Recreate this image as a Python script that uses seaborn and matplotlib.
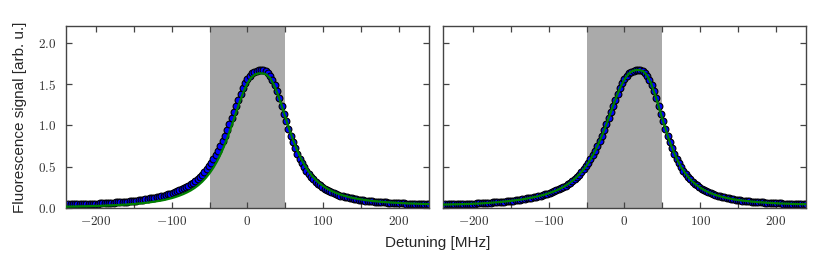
import matplotlib
matplotlib.use("Agg")
import matplotlib.pyplot as plt
import seaborn as sns
import pandas as pd
from matplotlib.ticker import MultipleLocator, FuncFormatter

# ---- data ----
# measured points, every 3 MHz from -240 to 240 MHz
detuning = list(range(-240, 241, 3))
signal = [
    0.045, 0.046, 0.046, 0.047, 0.048, 0.049, 0.049, 0.050, 0.051, 0.052,
    0.052, 0.053, 0.055, 0.056, 0.057, 0.058, 0.059, 0.060, 0.062, 0.064,
    0.066, 0.068, 0.070, 0.072, 0.074, 0.076, 0.079, 0.081, 0.084, 0.087,
    0.090, 0.093, 0.097, 0.100, 0.104, 0.109, 0.113, 0.119, 0.124, 0.129,
    0.134, 0.140, 0.146, 0.152, 0.160, 0.167, 0.176, 0.185, 0.194, 0.205,
    0.216, 0.229, 0.242, 0.257, 0.273, 0.291, 0.310, 0.331, 0.354, 0.379,
    0.407, 0.437, 0.471, 0.507, 0.548, 0.591, 0.639, 0.691, 0.747, 0.807,
    0.872, 0.940, 1.012, 1.086, 1.162, 1.238, 1.312, 1.383, 1.448, 1.507,
    1.557, 1.598, 1.629, 1.650, 1.663, 1.669,
    1.670, 1.668, 1.658, 1.637, 1.601, 1.551, 1.487, 1.411, 1.326, 1.236,
    1.143, 1.051, 0.962, 0.877, 0.798, 0.725, 0.659, 0.599, 0.545, 0.497,
    0.454, 0.415, 0.381, 0.350, 0.322, 0.298, 0.276, 0.256, 0.238, 0.222,
    0.208, 0.195, 0.183, 0.172, 0.162, 0.153, 0.145, 0.138, 0.131, 0.125,
    0.119, 0.114, 0.109, 0.105, 0.100, 0.097, 0.093, 0.090, 0.087, 0.084,
    0.081, 0.079, 0.076, 0.074, 0.072, 0.070, 0.068, 0.067, 0.065, 0.064,
    0.062, 0.061, 0.060, 0.058, 0.057, 0.056, 0.055, 0.054, 0.053, 0.053,
    0.052, 0.051, 0.050, 0.049, 0.049,
]

# fitted curves, every 5 MHz from -240 to 240 MHz
fit_detuning = list(range(-240, 241, 5))
fit_left = [
    0.020, 0.021, 0.022, 0.023, 0.024, 0.025, 0.026, 0.028, 0.029, 0.030,
    0.032, 0.034, 0.036, 0.038, 0.041, 0.043, 0.046, 0.049, 0.053, 0.057,
    0.061, 0.066, 0.071, 0.078, 0.085, 0.092, 0.101, 0.112, 0.123, 0.137,
    0.153, 0.171, 0.192, 0.216, 0.245, 0.279, 0.320, 0.368, 0.425, 0.492,
    0.571, 0.664, 0.771, 0.891, 1.022, 1.159, 1.293, 1.413, 1.510, 1.578,
    1.616, 1.629,
    1.629, 1.615, 1.571, 1.491, 1.379, 1.245, 1.102, 0.961, 0.830, 0.714,
    0.614, 0.528, 0.456, 0.396, 0.346, 0.304, 0.269, 0.239, 0.214, 0.193,
    0.175, 0.159, 0.146, 0.134, 0.124, 0.115, 0.108, 0.101, 0.095, 0.089,
    0.085, 0.080, 0.076, 0.073, 0.070, 0.067, 0.065, 0.062, 0.060, 0.058,
    0.057, 0.055, 0.053, 0.052, 0.051,
]
fit_right = [
    0.045, 0.046, 0.047, 0.048, 0.049, 0.050, 0.052, 0.053, 0.055, 0.057,
    0.059, 0.062, 0.065, 0.068, 0.072, 0.076, 0.080, 0.085, 0.090, 0.096,
    0.102, 0.108, 0.116, 0.125, 0.134, 0.144, 0.155, 0.167, 0.182, 0.198,
    0.216, 0.238, 0.262, 0.291, 0.324, 0.362, 0.407, 0.459, 0.520, 0.591,
    0.673, 0.767, 0.872, 0.988, 1.112, 1.238, 1.360, 1.469, 1.557, 1.620,
    1.655, 1.669,
    1.669, 1.653, 1.601, 1.510, 1.384, 1.236, 1.081, 0.933, 0.798, 0.681,
    0.581, 0.497, 0.428, 0.370, 0.322, 0.283, 0.250, 0.222, 0.199, 0.179,
    0.162, 0.148, 0.136, 0.125, 0.116, 0.107, 0.100, 0.094, 0.089, 0.084,
    0.079, 0.076, 0.072, 0.069, 0.066, 0.064, 0.061, 0.059, 0.057, 0.056,
    0.054, 0.052, 0.051, 0.050, 0.049,
]

window = (-50, 50)
x_limits = (-240, 240)
y_limits = (0.0, 2.2)

# ---- style ----
sns.set_style("ticks")
plt.rcParams["font.family"] = ["Liberation Sans", "DejaVu Sans"]
plt.rcParams["mathtext.fontset"] = "cm"

fig = plt.figure(figsize=(8.31, 2.57), dpi=100)
ax1 = fig.add_axes([0.0794, 0.1895, 0.4368, 0.7093])
ax2 = fig.add_axes([0.5331, 0.1895, 0.4368, 0.7093])

pts = pd.DataFrame({"x": detuning, "y": signal})
fits = pd.DataFrame({"x": fit_detuning, "fl": fit_left, "fr": fit_right})

spine_col = "#444444"
for ax, fitcol in ((ax1, "fl"), (ax2, "fr")):
    ax.axvspan(window[0], window[1], color="#aaaaaa", lw=0, zorder=0)
    sns.scatterplot(data=pts, x="x", y="y", ax=ax, s=24, color="#0000ff",
                    edgecolor="black", linewidth=0.8, zorder=2, legend=False)
    sns.lineplot(data=fits, x="x", y=fitcol, ax=ax, color="#008000", lw=1.6,
                 estimator=None, sort=False, zorder=3, legend=False)
    ax.set_xlim(*x_limits)
    ax.set_ylim(*y_limits)
    ax.xaxis.set_major_locator(MultipleLocator(100))
    ax.xaxis.set_minor_locator(MultipleLocator(50))
    ax.yaxis.set_major_locator(MultipleLocator(0.5))
    ax.xaxis.set_major_formatter(FuncFormatter(lambda v, p: f"${v:.0f}$"))
    ax.yaxis.set_major_formatter(FuncFormatter(lambda v, p: f"${v:.1f}$"))
    ax.tick_params(which="both", direction="in", top=True, right=True,
                   length=4, width=0.9, color=spine_col, labelsize=9.5,
                   labelcolor="#333333")
    ax.tick_params(axis="x", which="major", pad=5)
    ax.tick_params(axis="y", which="major", pad=7)
    for s in ax.spines.values():
        s.set_color(spine_col)
        s.set_linewidth(1.0)
    ax.set_xlabel("")
    ax.set_ylabel("")

ax2.tick_params(axis="y", labelleft=False)
ax1.set_ylabel("Fluorescence signal [arb. u.]", fontsize=11)
ax1.yaxis.set_label_coords(-0.107, 0.5)
fig.text(0.5265, 0.028, "Detuning [MHz]", ha="center", va="bottom", fontsize=11)

fig.savefig("out.png", dpi=100)
